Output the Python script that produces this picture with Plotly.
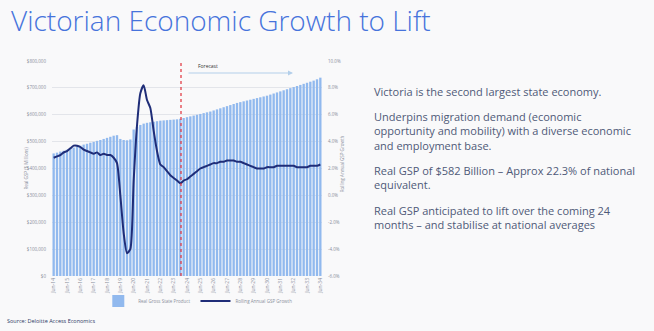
import plotly.graph_objects as go

# ---------------- data ----------------
years = list(range(14, 35))
tick_labels = [f"Jun-{y:02d}" for y in years]

gsp = [456000, 459000, 463000, 466000, 470000, 474000, 478000, 482000, 485000, 489000,
       492000, 496000, 499000, 503000, 506000, 510000, 514000, 518000, 522000, 524000,
       510000, 506000, 505000, 508000, 545000, 555000, 562000, 567000, 570000, 572000,
       574000, 576000, 578000, 579000, 580000, 581000, 582000, 583000, 585000, 588000,
       591000, 594000, 597000, 600000, 603000, 606000, 609000, 612000, 616000, 620000,
       624000, 628000, 632000, 636000, 640000, 644000, 647000, 650000, 653000, 656000,
       659000, 662000, 665000, 668000, 671000, 675000, 679000, 683000, 687000, 691000,
       695000, 699000, 703000, 707000, 711000, 715000, 719000, 723000, 727000, 732000,
       738000]

growth = [2.8, 2.9, 3.0, 3.2, 3.3, 3.5, 3.7, 3.7, 3.6, 3.4,
          3.3, 3.2, 3.1, 3.2, 3.0, 3.1, 3.0, 3.0, 2.8, 2.4,
          0.0, -2.8, -4.3, -4.0, 1.1, 5.2, 7.6, 8.2, 7.1, 6.5,
          4.8, 3.3, 2.3, 2.1, 1.8, 1.5, 1.3, 1.1, 0.9, 1.1,
          1.2, 1.4, 1.6, 1.8, 2.0, 2.1, 2.2, 2.3, 2.4, 2.4,
          2.5, 2.5, 2.6, 2.6, 2.6, 2.5, 2.5, 2.4, 2.3, 2.2,
          2.1, 2.0, 2.0, 2.0, 2.1, 2.1, 2.1, 2.2, 2.2, 2.2,
          2.2, 2.2, 2.2, 2.1, 2.1, 2.1, 2.1, 2.2, 2.2, 2.2,
          2.3]

forecast_start = 38.2

left_ticks = [0, 100000, 200000, 300000, 400000, 500000, 600000, 700000, 800000]
left_labels = ["$0", "$100,000", "$200,000", "$300,000", "$400,000", "$500,000",
               "$600,000", "$700,000", "$800,000"]
right_ticks = [-6, -4, -2, 0, 2, 4, 6, 8, 10]
right_labels = ["-6.0%", "-4.0%", "-2.0%", "0.0%", "2.0%", "4.0%", "6.0%", "8.0%", "10.0%"]

paragraphs = [
    "Victoria is the second largest state economy.",
    "Underpins migration demand (economic<br>opportunity and mobility) with a diverse economic<br>and employment base.",
    "Real GSP of $582 Billion \u2013 Approx 22.3% of national<br>equivalent.",
    "Real GSP anticipated to lift over the coming 24<br>months \u2013 and stabilise at national averages",
]
para_y = [0.860, 0.674, 0.456, 0.270]

# ---------------- figure ----------------
xi = list(range(len(gsp)))
BG = "#f9f9fa"
TICK = "#8a8f9c"

fig = go.Figure()
fig.add_trace(go.Bar(x=xi, y=gsp, name="Real Gross State Product",
                     marker=dict(color="#91b9ee", line=dict(width=0)), yaxis="y"))
fig.add_trace(go.Scatter(x=xi, y=growth, name="Rolling Annual GSP Growth", mode="lines",
                         line=dict(color="#1f2d78", width=2, shape="spline", smoothing=0.6),
                         yaxis="y2"))

fig.update_layout(
    width=654, height=331,
    margin=dict(l=52, r=332, t=61, b=55),
    paper_bgcolor=BG, plot_bgcolor=BG,
    font=dict(family="Open Sans", color=TICK, size=5),
    bargap=0.3,
    showlegend=True,
    legend=dict(orientation="h", x=0.54, xanchor="center", y=-0.116, yanchor="middle",
                font=dict(size=4.5, color=TICK), bgcolor="rgba(0,0,0,0)",
                itemwidth=30, tracegroupgap=0),
    xaxis=dict(range=[-0.5, len(gsp) - 0.5], tickmode="array",
               tickvals=[i * 4 for i in range(len(tick_labels))], ticktext=tick_labels,
               tickangle=-90, tickfont=dict(size=5, color=TICK), showgrid=False,
               zeroline=False, showline=False),
    yaxis=dict(range=[0, 800000], tickmode="array", tickvals=left_ticks, ticktext=left_labels,
               showgrid=True, gridcolor="#e3e5ea", gridwidth=1, zeroline=False,
               tickfont=dict(size=4.5, color=TICK), ticks="", ticklabelstandoff=5),
    yaxis2=dict(range=[-6, 10], tickmode="array", tickvals=right_ticks, ticktext=right_labels,
                overlaying="y", side="right", showgrid=False, zeroline=False,
                tickfont=dict(size=4.5, color=TICK), ticklabelstandoff=5),
)

# forecast marker
fig.add_shape(type="line", x0=forecast_start, x1=forecast_start, y0=0, y1=1,
              xref="x", yref="paper", line=dict(color="#e0303a", width=1.2, dash="dot"))
fig.add_annotation(x=(208 - 52) / 270, y=(276 - 66) / 215, xref="paper", yref="paper",
                   text="Forecast", showarrow=False, font=dict(size=5, color="#333"),
                   xanchor="center", yanchor="middle")
fig.add_annotation(x=(293 - 52) / 270, y=(276 - 73) / 215, ax=(187 - 52) / 270,
                   ay=(276 - 73) / 215, xref="x domain", yref="y domain",
                   axref="x domain", ayref="y domain", text="", showarrow=True,
                   arrowhead=2, arrowsize=1, arrowwidth=1, arrowcolor="#b3cfea")

# axis titles
fig.add_annotation(x=(20 - 52) / 270, y=0.5, xref="paper", yref="paper",
                   text="Real GSP ($ Millions)", textangle=-90, showarrow=False,
                   font=dict(size=4.5, color=TICK))
fig.add_annotation(x=(347 - 52) / 270, y=0.52, xref="paper", yref="paper",
                   text="Rolling Annual GSP Growth", textangle=-90, showarrow=False,
                   font=dict(size=4.5, color=TICK))

# title
fig.add_annotation(x=(9 - 52) / 270, y=(276 - 20) / 215, xref="paper", yref="paper",
                   text="Victorian Economic Growth to Lift", showarrow=False,
                   xanchor="left", yanchor="middle",
                   font=dict(family="Open Sans", size=28, color="#4673dc", weight=300))

# body text
for txt, yy in zip(paragraphs, para_y):
    fig.add_annotation(x=(372 - 52) / 270, y=yy, xref="paper", yref="paper", text=txt,
                       showarrow=False, xanchor="left", yanchor="middle", align="left",
                       font=dict(family="Open Sans", size=11, color="#4f5a78"))

# source
fig.add_annotation(x=(5 - 52) / 270, y=(276 - 321) / 215, xref="paper", yref="paper",
                   text="Source: Deloitte Access Economics", showarrow=False,
                   xanchor="left", yanchor="middle",
                   font=dict(family="Open Sans", size=5.5, color="#2d3a66"))

fig.write_html("out.html")
